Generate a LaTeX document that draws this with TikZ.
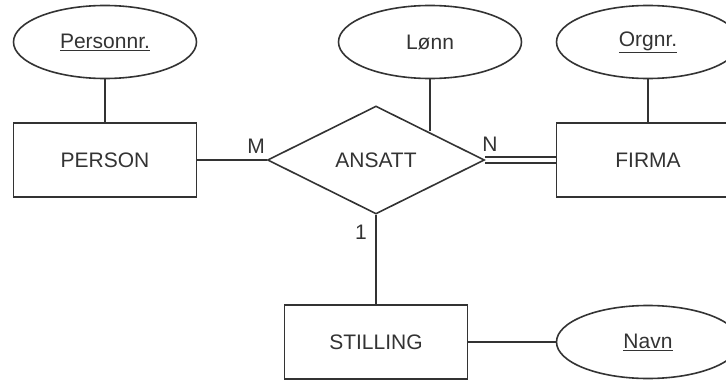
\documentclass[tikz,border=0pt]{standalone}
\usepackage{fontspec}
\setmainfont{Liberation Sans}
\usetikzlibrary{shapes.geometric}
\definecolor{ink}{HTML}{333333}
\begin{document}
\begin{tikzpicture}[x=1pt,y=-1pt,
  every node/.style={font=\fontsize{21}{24}\selectfont,text=ink},
  entity/.style={draw=ink,line width=1.6pt,minimum width=183pt,minimum height=74pt,inner sep=0pt},
  attr/.style={draw=ink,line width=1.6pt,ellipse,minimum width=183pt,minimum height=73pt,inner sep=0pt},
  rel/.style={draw=ink,line width=1.6pt,diamond,minimum width=217pt,minimum height=108pt,inner sep=0pt,aspect=2},
  conn/.style={draw=ink,line width=1.6pt},
  card/.style={inner sep=0pt}]
\useasboundingbox (0,0) rectangle (726,380);
\clip (0,0) rectangle (726,380);
\node[attr] (personnr) at (105,42) {\underline{Personnr.}};
\node[entity] (person) at (105,160) {PERSON};
\node[attr] (lonn) at (430,42) {Lønn};
\node[attr] (orgnr) at (648,42) {\underline{Orgnr.}};
\node[entity] (firma) at (648,160) {FIRMA};
\node[rel] (ansatt) at (376,160) {ANSATT};
\node[entity] (stilling) at (376,342) {STILLING};
\node[attr] (navn) at (648,342) {\underline{Navn}};
\draw[conn] (personnr) -- (person);
\draw[conn] (orgnr) -- (firma);
\draw[conn] (lonn.south) -- (lonn.south |- 0,131) coordinate (lonnend);
\draw[conn] (person.east) -- (ansatt.west);
\draw[conn] ([yshift=-3pt]ansatt.east) -- ([yshift=-3pt]firma.west);
\draw[conn] ([yshift=3pt]ansatt.east) -- ([yshift=3pt]firma.west);
\draw[conn] (ansatt.south) -- (stilling.north);
\draw[conn] (stilling.east) -- (navn.west);
\node[card] (m) at (256,146) {M};
\node[card] (n) at (490,144) {N};
\node[card] (one) at (361,232) {1};
\end{tikzpicture}
\end{document}
